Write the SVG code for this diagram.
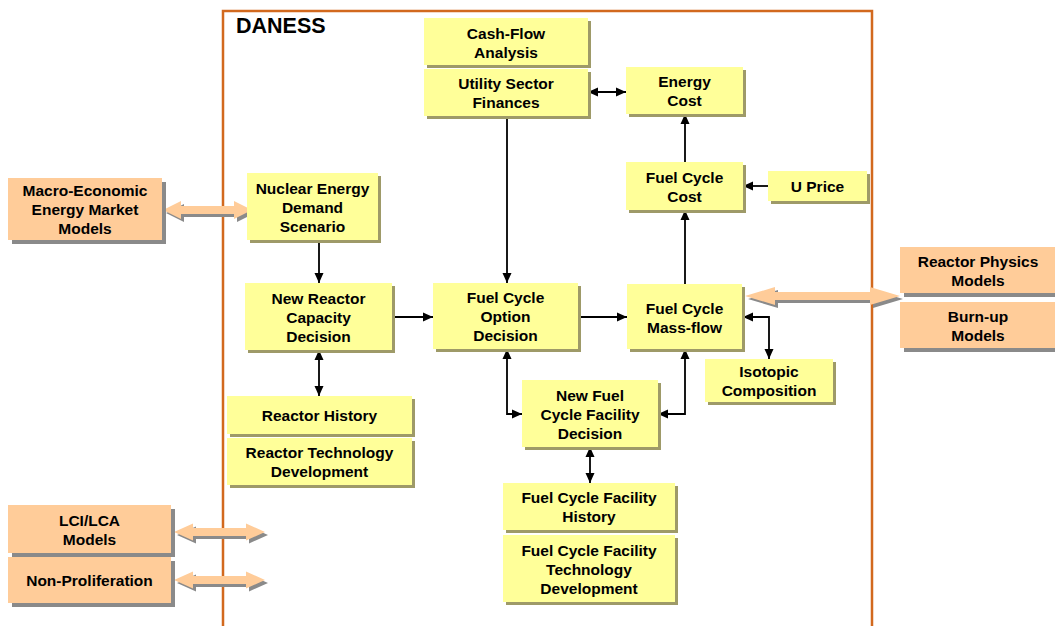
<svg xmlns="http://www.w3.org/2000/svg" width="1055" height="626" viewBox="0 0 1055 626">
<style>
text{font-family:"Liberation Sans",Arial,sans-serif;font-weight:bold;font-size:15.5px;fill:#000;text-anchor:middle}
.y{fill:#FFFF99}
.ys{fill:#9E9A68}
.o{fill:#FFCC99}
.os{fill:#8A8A8A}
.c{fill:none;stroke:#000;stroke-width:1.8}
.ba{fill:#FFCC99}
.bs{fill:#8A8A8A}
</style>
<defs>
<marker id="ah" viewBox="0 0 10 10" refX="10" refY="5" markerWidth="10" markerHeight="10" markerUnits="userSpaceOnUse" orient="auto-start-reverse">
<path d="M0,0.5 L10,5 L0,9.5 Z" fill="#000"/>
</marker>
</defs>
<rect width="1055" height="626" fill="#fff"/>
<g id="frame">
<path d="M223,626 V11 H872 V626" fill="none" stroke="#D2691E" stroke-width="2.5"/>
<text x="236" y="33" style="font-size:21.5px;text-anchor:start">DANESS</text>
</g>
<g id="big-arrows">
<path class="bs" d="M166,213 l18,-9 v5 h53 v-5 l18,9 l-18,9 v-5 h-53 v5 Z"/>
<path class="ba" d="M163,210 l18,-9 v5 h53 v-5 l18,9 l-18,9 v-5 h-53 v5 Z"/>
<path class="bs" d="M748,299 l30,-9 v5 h95 v-5 l30,9 l-30,9 v-5 h-95 v5 Z"/>
<path class="ba" d="M745,296 l30,-9 v5 h95 v-5 l30,9 l-30,9 v-5 h-95 v5 Z"/>
<path class="bs" d="M177,535 l19,-8.5 v4.5 h53 v-4.5 l19,8.5 l-19,8.5 v-4.5 h-53 v4.5 Z"/>
<path class="ba" d="M174,532 l19,-8.5 v4.5 h53 v-4.5 l19,8.5 l-19,8.5 v-4.5 h-53 v4.5 Z"/>
<path class="bs" d="M177,583 l19,-8.5 v4.5 h53 v-4.5 l19,8.5 l-19,8.5 v-4.5 h-53 v4.5 Z"/>
<path class="ba" d="M174,580 l19,-8.5 v4.5 h53 v-4.5 l19,8.5 l-19,8.5 v-4.5 h-53 v4.5 Z"/>
</g>
<g id="connectors">
<path class="c" d="M588,92 H626" marker-start="url(#ah)" marker-end="url(#ah)"/>
<path class="c" d="M507,116 V283" marker-end="url(#ah)"/>
<path class="c" d="M685,162 V114" marker-end="url(#ah)"/>
<path class="c" d="M768,186 H743" marker-end="url(#ah)"/>
<path class="c" d="M685,284 V210" marker-end="url(#ah)"/>
<path class="c" d="M319,240 V283" marker-end="url(#ah)"/>
<path class="c" d="M392,317 H433" marker-end="url(#ah)"/>
<path class="c" d="M578,317 H627" marker-end="url(#ah)"/>
<path class="c" d="M319,350 V396" marker-start="url(#ah)" marker-end="url(#ah)"/>
<path class="c" d="M507,349 V414 H522" marker-start="url(#ah)" marker-end="url(#ah)"/>
<path class="c" d="M685,349 V414 H658" marker-start="url(#ah)" marker-end="url(#ah)"/>
<path class="c" d="M743,317 H769 V359" marker-start="url(#ah)" marker-end="url(#ah)"/>
<path class="c" d="M590,447 V483" marker-start="url(#ah)" marker-end="url(#ah)"/>
</g>
<g id="cash-flow">
<rect class="ys" x="427" y="21" width="164" height="47"/>
<rect class="y" x="424" y="18" width="164" height="47"/>
<text x="506" y="38.5">Cash-Flow<tspan x="506" dy="19">Analysis</tspan></text>
</g>
<g id="utility">
<rect class="ys" x="427" y="72" width="164" height="47"/>
<rect class="y" x="424" y="69" width="164" height="47"/>
<text x="506" y="89">Utility Sector<tspan x="506" dy="19">Finances</tspan></text>
</g>
<g id="energy-cost">
<rect class="ys" x="629" y="70" width="117" height="47"/>
<rect class="y" x="626" y="67" width="117" height="47"/>
<text x="684.5" y="87">Energy<tspan x="684.5" dy="19">Cost</tspan></text>
</g>
<g id="fuel-cycle-cost">
<rect class="ys" x="629" y="165" width="117" height="48"/>
<rect class="y" x="626" y="162" width="117" height="48"/>
<text x="684.5" y="182.5">Fuel Cycle<tspan x="684.5" dy="19">Cost</tspan></text>
</g>
<g id="u-price">
<rect class="ys" x="771" y="174" width="99" height="30"/>
<rect class="y" x="768" y="171" width="99" height="30"/>
<text x="817.5" y="192">U Price</text>
</g>
<g id="demand">
<rect class="ys" x="250" y="176" width="131" height="67"/>
<rect class="y" x="247" y="173" width="131" height="67"/>
<text x="312.5" y="193.5">Nuclear Energy<tspan x="312.5" dy="19">Demand</tspan><tspan x="312.5" dy="19">Scenario</tspan></text>
</g>
<g id="new-reactor">
<rect class="ys" x="248" y="286" width="147" height="67"/>
<rect class="y" x="245" y="283" width="147" height="67"/>
<text x="318.5" y="303.5">New Reactor<tspan x="318.5" dy="19">Capacity</tspan><tspan x="318.5" dy="19">Decision</tspan></text>
</g>
<g id="fc-option">
<rect class="ys" x="436" y="286" width="145" height="66"/>
<rect class="y" x="433" y="283" width="145" height="66"/>
<text x="505.5" y="303">Fuel Cycle<tspan x="505.5" dy="19">Option</tspan><tspan x="505.5" dy="19">Decision</tspan></text>
</g>
<g id="mass-flow">
<rect class="ys" x="630" y="287" width="115" height="65"/>
<rect class="y" x="627" y="284" width="115" height="65"/>
<text x="684.5" y="313.5">Fuel Cycle<tspan x="684.5" dy="19">Mass-flow</tspan></text>
</g>
<g id="reactor-history">
<rect class="ys" x="230" y="399" width="185" height="38"/>
<rect class="y" x="227" y="396" width="185" height="38"/>
<text x="319.5" y="421">Reactor History</text>
</g>
<g id="reactor-tech">
<rect class="ys" x="230" y="441" width="185" height="47"/>
<rect class="y" x="227" y="438" width="185" height="47"/>
<text x="319.5" y="458">Reactor Technology<tspan x="319.5" dy="19">Development</tspan></text>
</g>
<g id="new-fcf">
<rect class="ys" x="525" y="383" width="136" height="67"/>
<rect class="y" x="522" y="380" width="136" height="67"/>
<text x="590" y="400.5">New Fuel<tspan x="590" dy="19">Cycle Facility</tspan><tspan x="590" dy="19">Decision</tspan></text>
</g>
<g id="isotopic">
<rect class="ys" x="708" y="362" width="128" height="43"/>
<rect class="y" x="705" y="359" width="128" height="43"/>
<text x="769" y="377">Isotopic<tspan x="769" dy="19">Composition</tspan></text>
</g>
<g id="fcf-history">
<rect class="ys" x="506" y="486" width="172" height="47"/>
<rect class="y" x="503" y="483" width="172" height="47"/>
<text x="589" y="503">Fuel Cycle Facility<tspan x="589" dy="19">History</tspan></text>
</g>
<g id="fcf-tech">
<rect class="ys" x="506" y="538" width="172" height="67"/>
<rect class="y" x="503" y="535" width="172" height="67"/>
<text x="589" y="555.5">Fuel Cycle Facility<tspan x="589" dy="19">Technology</tspan><tspan x="589" dy="19">Development</tspan></text>
</g>
<g id="macro">
<rect class="os" x="12" y="182" width="154" height="62"/>
<rect class="o" x="8" y="178" width="154" height="62"/>
<text x="85" y="196">Macro-Economic<tspan x="85" dy="19">Energy Market</tspan><tspan x="85" dy="19">Models</tspan></text>
</g>
<g id="reactor-physics">
<rect class="os" x="904" y="251" width="160" height="46"/>
<rect class="o" x="900" y="247" width="160" height="46"/>
<text x="978" y="266.5">Reactor Physics<tspan x="978" dy="19">Models</tspan></text>
</g>
<g id="burn-up">
<rect class="os" x="904" y="306" width="160" height="46"/>
<rect class="o" x="900" y="302" width="160" height="46"/>
<text x="978" y="321.5">Burn-up<tspan x="978" dy="19">Models</tspan></text>
</g>
<g id="lci-lca">
<rect class="os" x="12" y="509" width="163" height="48"/>
<rect class="o" x="8" y="505" width="163" height="48"/>
<text x="89.5" y="525.5">LCI/LCA<tspan x="89.5" dy="19">Models</tspan></text>
</g>
<g id="non-proliferation">
<rect class="os" x="12" y="561" width="163" height="46"/>
<rect class="o" x="8" y="557" width="163" height="46"/>
<text x="89.5" y="586">Non-Proliferation</text>
</g>
</svg>
